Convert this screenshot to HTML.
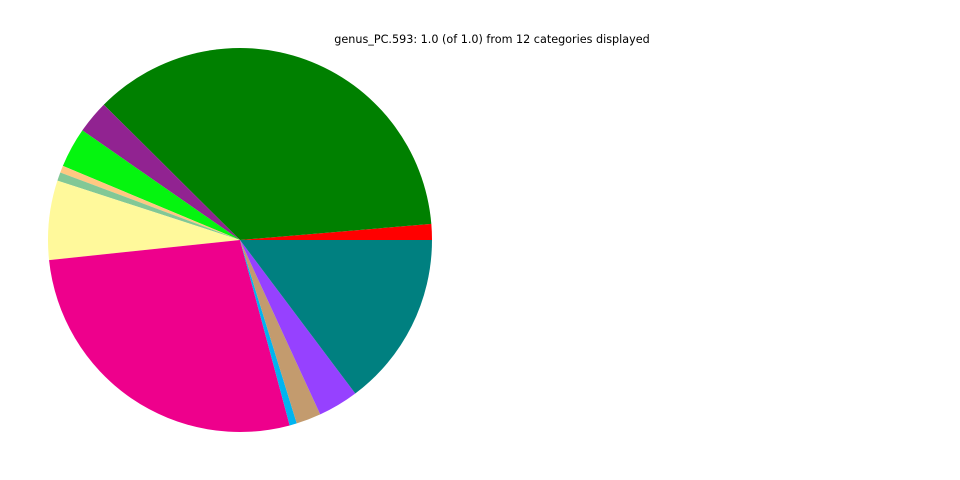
<!DOCTYPE html>
<html><head><meta charset="utf-8"><style>
html,body{margin:0;padding:0;background:#fff;width:960px;height:480px;overflow:hidden}
svg{display:block}
</style></head><body>
<svg id="chart" width="960" height="480" xmlns="http://www.w3.org/2000/svg">
<rect width="960" height="480" fill="#fff"/>
<text x="492" y="43" text-anchor="middle" font-family="DejaVu Sans, sans-serif" font-size="11.2" fill="#000">genus_PC.593: 1.0 (of 1.0) from 12 categories displayed</text>
<g id="slices"></g>
</svg>
<script>
const categories = ["red","green","purple","bright-green","orange","light-green","yellow","magenta","cyan","tan","violet","teal"];
const values = [4.8,130.4,10,12.1,2.1,2.6,24,99,2.2,7.5,12.2,53.1];
const colors = ["#ff0000","#008000","#912391","#05f50f","#ffc882","#82c896","#fff99b","#ee008c","#00b4f0","#c39b6e","#9641ff","#008080"];
const cx=240, cy=240, r=192;
const total = values.reduce((a,b)=>a+b,0);
const g = document.getElementById('slices');
let a0 = 0;
values.forEach((v,i)=>{
  const a1 = a0 + v/total*2*Math.PI;
  const x0=cx+r*Math.cos(a0), y0=cy-r*Math.sin(a0);
  const x1=cx+r*Math.cos(a1), y1=cy-r*Math.sin(a1);
  const large = (a1-a0)>Math.PI?1:0;
  const p = document.createElementNS('http://www.w3.org/2000/svg','path');
  p.setAttribute('d',`M${cx},${cy} L${x0},${y0} A${r},${r} 0 ${large} 0 ${x1},${y1} Z`);
  p.setAttribute('fill',colors[i]);
  
  
  g.appendChild(p);
  a0 = a1;
});
</script>
</body></html>
